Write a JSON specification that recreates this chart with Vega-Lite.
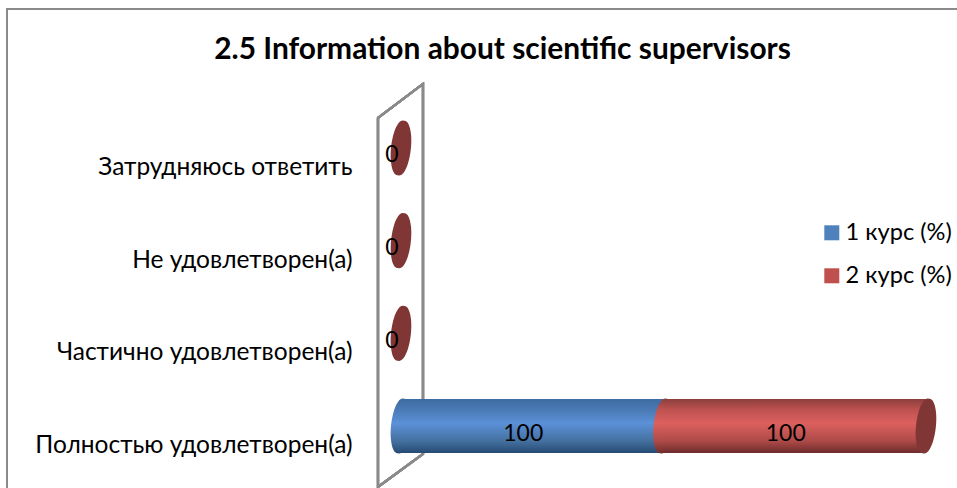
{
"$schema":"https://vega.github.io/schema/vega-lite/v6.json",
"width":951,"height":480,
"padding":{"left":7,"top":9,"right":0,"bottom":0},
"autosize":{"type":"none"},
"background":"white",
"config":{"view":{"stroke":"#8a8a8a","strokeWidth":2},"font":"Lato"},
"title":{"text":"2.5 Information about scientific supervisors","font":"Lato","fontSize":29.9,"fontWeight":"bold","color":"#000000","anchor":"middle","dx":20,"dy":56,"offset":0},
"data":{"values":[
{"category":"Полностью удовлетворен(а)","course":"1 курс (%)","value":100},
{"category":"Частично удовлетворен(а)","course":"1 курс (%)","value":0},
{"category":"Не удовлетворен(а)","course":"1 курс (%)","value":0},
{"category":"Затрудняюсь ответить","course":"1 курс (%)","value":0},
{"category":"Полностью удовлетворен(а)","course":"2 курс (%)","value":100},
{"category":"Частично удовлетворен(а)","course":"2 курс (%)","value":0},
{"category":"Не удовлетворен(а)","course":"2 курс (%)","value":0},
{"category":"Затрудняюсь ответить","course":"2 курс (%)","value":0}
]},
"transform":[{"stack":"value","groupby":["category"],"sort":[{"field":"course","order":"ascending"}],"as":["x0","x1"]}],
"encoding":{
"x":{"field":"x0","type":"quantitative","scale":{"domain":[0,200],"range":[394,919]},"axis":null},
"y":{"field":"category","type":"nominal","sort":["Затрудняюсь ответить","Не удовлетворен(а)","Частично удовлетворен(а)","Полностью удовлетворен(а)"],
"scale":{"range":[92.65,463.35],"paddingInner":0,"paddingOuter":0},
"axis":{"title":null,"domain":false,"ticks":false,"grid":false,"offset":-345,"labelPadding":0,"labelOffset":20,"labelFont":"Lato","labelFontSize":24.5,"labelColor":"#000000","labelLimit":400}}
},
"layer":[
{"mark":{"type":"point","filled":true,"fill":"none","stroke":"#8a8a8a","strokeWidth":2.2,"opacity":1,"size":4,"shape":"M-23,-30 L22,-64 L22,306 L-23,339 Z"},
 "encoding":{"x":{"datum":0},"y":{"datum":"Затрудняюсь ответить"}}},
{"mark":{"type":"bar","size":54},
 "encoding":{"x2":{"field":"x1"},"color":{"field":"course","type":"nominal","scale":{"domain":["1 курс (%)","2 курс (%)"],"range":["#4f81bd","#c0504d"]},
 "legend":{"title":null,"orient":"none","legendX":813,"legendY":212,"padding":0,"symbolType":"square","symbolSize":225,"symbolStrokeWidth":0,"symbolOpacity":1,"labelFont":"Lato","labelFontSize":23.6,"labelColor":"#000000","rowPadding":18,"labelOffset":2,"labelLimit":200}}}},
{"transform":[{"filter":"datum.value>0 && datum.course==='1 курс (%)'"}],
 "mark":{"type":"point","filled":true,"opacity":1,"size":4,"shape":"M2.9,-27.3 A9,27.6 6 1 1 -2.9,27.3 A9,27.6 6 1 1 2.9,-27.3 Z",
 "fill":{"gradient":"linear","x1":0,"y1":0,"x2":0,"y2":1,"stops":[{"offset":0,"color":"#3d6aa1"},{"offset":0.2,"color":"#4a7ab5"},{"offset":0.45,"color":"#5b91d8"},{"offset":0.78,"color":"#44709f"},{"offset":1,"color":"#254a73"}]}}},
{"transform":[{"filter":"datum.value>0 && datum.course==='1 курс (%)'"}],
 "mark":{"type":"bar","size":54,
 "fill":{"gradient":"linear","x1":0,"y1":0,"x2":0,"y2":1,"stops":[{"offset":0,"color":"#3d6aa1"},{"offset":0.2,"color":"#4a7ab5"},{"offset":0.45,"color":"#5b91d8"},{"offset":0.78,"color":"#44709f"},{"offset":1,"color":"#254a73"}]}},
 "encoding":{"x2":{"field":"x1"}}},
{"transform":[{"filter":"datum.value>0 && datum.course==='2 курс (%)'"}],
 "mark":{"type":"point","filled":true,"opacity":1,"size":4,"shape":"M2.9,-27.3 A9,27.6 6 1 1 -2.9,27.3 A9,27.6 6 1 1 2.9,-27.3 Z",
 "fill":{"gradient":"linear","x1":0,"y1":0,"x2":0,"y2":1,"stops":[{"offset":0,"color":"#8d3f3d"},{"offset":0.2,"color":"#bd5250"},{"offset":0.45,"color":"#dc605e"},{"offset":0.78,"color":"#ad4a48"},{"offset":1,"color":"#6c2c2a"}]}}},
{"transform":[{"filter":"datum.value>0 && datum.course==='2 курс (%)'"}],
 "mark":{"type":"bar","size":54,
 "fill":{"gradient":"linear","x1":0,"y1":0,"x2":0,"y2":1,"stops":[{"offset":0,"color":"#8d3f3d"},{"offset":0.2,"color":"#bd5250"},{"offset":0.45,"color":"#dc605e"},{"offset":0.78,"color":"#ad4a48"},{"offset":1,"color":"#6c2c2a"}]}},
 "encoding":{"x2":{"field":"x1"}}},
{"transform":[{"filter":"datum.course==='2 курс (%)'"}],
 "mark":{"type":"point","filled":true,"opacity":1,"fill":"#7f3634","size":4,"shape":"M2.9,-27.3 A9,27.6 6 1 1 -2.9,27.3 A9,27.6 6 1 1 2.9,-27.3 Z"},
 "encoding":{"x":{"field":"x1","type":"quantitative"}}},
{"transform":[{"filter":"datum.value>0 || datum.course==='1 курс (%)'"},{"fold":["x0","x1"],"as":["edge","pos"]},{"aggregate":[{"op":"mean","field":"pos","as":"mid"},{"op":"max","field":"value","as":"value"}],"groupby":["category","course"]}],
 "mark":{"type":"text","font":"Lato","fontSize":23,"color":"#000000","dx":-9,"dy":7.5,"align":"center","baseline":"middle"},
 "encoding":{"x":{"field":"mid","type":"quantitative"},"text":{"field":"value","type":"quantitative"}}}
]
}
